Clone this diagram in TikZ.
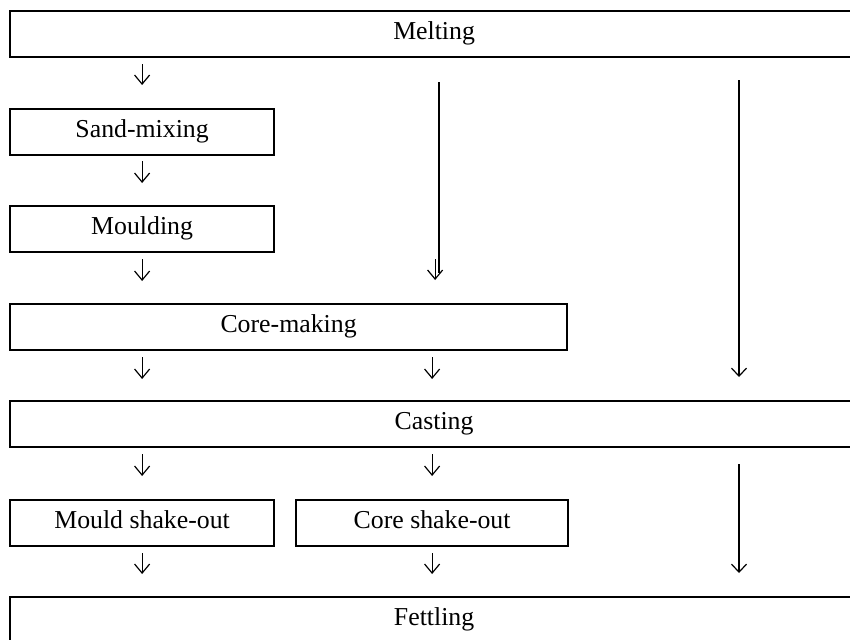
\documentclass[tikz,border=0pt]{standalone}
\usepackage{fontspec}
\setmainfont{Liberation Serif}
\usetikzlibrary{arrows.meta,calc}
\tikzset{
  box/.style={draw, line width=2.2pt, inner sep=0pt, text height=28pt, text depth=18pt,
    anchor=north west, font=\fontsize{25.8}{30}\selectfont},
  arr/.style={line width=1.2pt, -{Straight Barb[length=9pt,width=15pt,line width=1.2pt]}},
  longline/.style={line width=2.2pt},
  longarr/.style={line width=2.2pt, -{Straight Barb[length=8pt,width=15pt,line width=1.2pt]}}
}
\begin{document}
\begin{tikzpicture}[x=1pt,y=1pt]
\useasboundingbox (0,0) rectangle (850,-639);
\clip (0,0) rectangle (850,-639);
\node[box, minimum width=848pt] (melt) at (9,-10) {Melting};
\node[box, minimum width=264pt] (sand) at (9,-108) {Sand-mixing};
\node[box, minimum width=264pt] (mould) at (9,-205) {Moulding};
\node[box, minimum width=557pt] (core) at (9,-303) {Core-making};
\node[box, minimum width=848pt] (cast) at (9,-400) {Casting};
\node[box, minimum width=264pt] (mshake) at (9,-499) {Mould shake-out};
\node[box, minimum width=272pt] (cshake) at (295,-499) {Core shake-out};
\node[box, minimum width=848pt, text depth=70pt] (fett) at (9,-596) {Fettling};
\coordinate (rx) at (739,0);
% left column
\draw[arr, shorten <=6pt, shorten >=23pt] (melt.south -| sand.north) -- (sand.north);
\draw[arr, shorten <=5pt, shorten >=22pt] (sand.south) -- (mould.north);
\draw[arr, shorten <=6pt, shorten >=22pt] (mould.south) -- (core.north -| mould.south);
\draw[arr, shorten <=6pt, shorten >=21pt] (core.south -| mould.south) -- (cast.north -| mould.south);
\draw[arr, shorten <=6pt, shorten >=23pt] (cast.south -| mshake.north) -- (mshake.north);
\draw[arr, shorten <=6pt, shorten >=22pt] (mshake.south) -- (fett.north -| mshake.south);
% middle column
\draw[longline] ([xshift=5pt,yshift=-24pt]melt.south) -- ([xshift=5pt,yshift=30pt]core.north -| melt.south);
\draw[arr] ([xshift=1pt,yshift=-201pt]melt.south) -- ([xshift=1pt,yshift=23pt]core.north -| melt.south);
\draw[arr, shorten <=6pt, shorten >=21pt] (core.south -| cshake.north) -- (cast.north -| cshake.north);
\draw[arr, shorten <=6pt, shorten >=23pt] (cast.south -| cshake.north) -- (cshake.north);
\draw[arr, shorten <=6pt, shorten >=22pt] (cshake.south) -- (fett.north -| cshake.south);
% right column
\draw[longarr] ([yshift=-22pt]melt.south -| rx) -- ([yshift=23pt]cast.north -| rx);
\draw[longarr] ([yshift=-16pt]cast.south -| rx) -- ([yshift=23pt]fett.north -| rx);
\end{tikzpicture}
\end{document}
